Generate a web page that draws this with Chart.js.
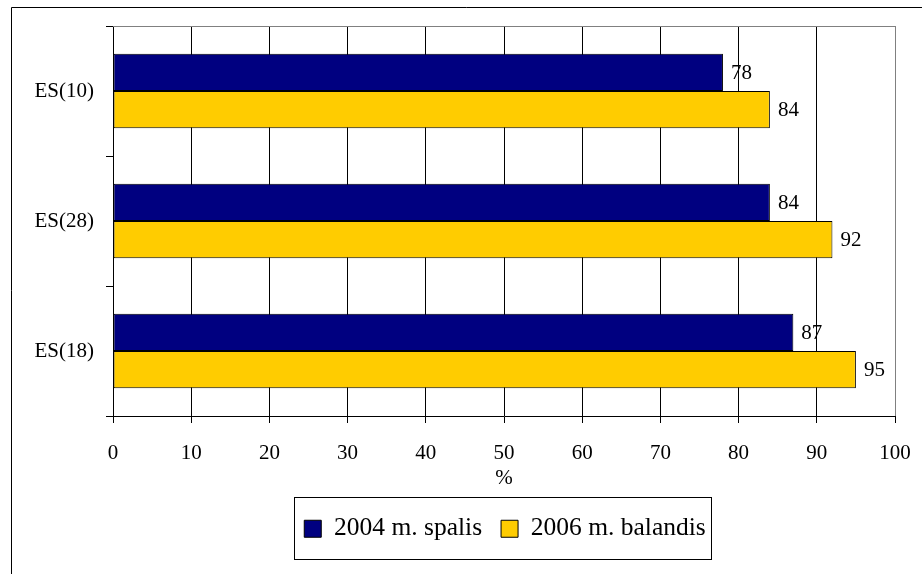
<!DOCTYPE html>
<html>
<head>
<meta charset="utf-8">
<script src="https://cdn.jsdelivr.net/npm/chart.js@4/dist/chart.umd.min.js"></script>
<style>
  html, body { margin: 0; padding: 0; background: #fff; }
  canvas { display: block; }
</style>
</head>
<body>
<canvas id="c" width="922" height="574"></canvas>
<script>
// Survey regions and results (%)
const categories = ['ES(10)', 'ES(28)', 'ES(18)'];
const seriesNames = ['2004 m. spalis', '2006 m. balandis'];
const values2004 = [78, 84, 87];
const values2006 = [84, 92, 95];
const xTicks = [0, 10, 20, 30, 40, 50, 60, 70, 80, 90, 100];
const axisTitle = '%';

const SERIF = '"Liberation Serif", "Times New Roman", serif';
const font = { family: SERIF, size: 21 };
const legendFont = { family: SERIF, size: 25.5 };
const LEGEND_PAD = 19;
const LEGEND_CENTER_X = 505;

// Outer frame, top border of the plot and the boxed legend
const decorations = {
  id: 'decorations',
  beforeDraw(chart) {
    const ctx = chart.ctx;
    ctx.save();
    ctx.fillStyle = '#fff';
    ctx.fillRect(0, 0, chart.width, chart.height);
    ctx.strokeStyle = '#000';
    ctx.lineWidth = 1;
    ctx.beginPath();
    ctx.moveTo(11.5, chart.height);
    ctx.lineTo(11.5, 7.5);
    ctx.lineTo(chart.width, 7.5);
    ctx.stroke();
    ctx.restore();

    // centre the legend row under the plot
    const lg = chart.legend;
    if (lg) {
      const d = LEGEND_CENTER_X - (lg.left + lg.right) / 2;
      lg.left += d;
      lg.right += d;
    }
  },
  afterDraw(chart) {
    const ctx = chart.ctx;
    const a = chart.chartArea;
    ctx.save();
    ctx.strokeStyle = '#808080';
    ctx.lineWidth = 1;
    ctx.beginPath();
    ctx.moveTo(a.left, Math.round(a.top) + 0.5);
    ctx.lineTo(a.right + 0.5, Math.round(a.top) + 0.5);
    ctx.stroke();

    const lg = chart.legend;
    if (lg && lg.lineWidths) {
      const lw = lg.lineWidths[0];
      const start = (lg.left + LEGEND_PAD + lg.right - lw) / 2;
      const end = start + lw - LEGEND_PAD;
      const x0 = Math.round(start - 10) + 0.5;
      const x1 = Math.round(end + 5) + 0.5;
      const y0 = Math.round(lg.top) + 0.5;
      const y1 = y0 + 62;
      ctx.strokeStyle = '#000';
      ctx.strokeRect(x0, y0, x1 - x0, y1 - y0);
    }
    ctx.restore();
  }
};

// Value labels at the end of each bar
const valueLabels = {
  id: 'valueLabels',
  afterDatasetsDraw(chart) {
    const ctx = chart.ctx;
    ctx.save();
    ctx.font = `${font.size}px ${SERIF}`;
    ctx.fillStyle = '#000';
    ctx.textAlign = 'left';
    ctx.textBaseline = 'middle';
    chart.data.datasets.forEach((ds, di) => {
      const meta = chart.getDatasetMeta(di);
      meta.data.forEach((bar, i) => {
        ctx.fillText(String(ds.data[i]), bar.x + 8, bar.y + 1);
      });
    });
    ctx.restore();
  }
};

new Chart(document.getElementById('c'), {
  type: 'bar',
  data: {
    labels: categories,
    datasets: [
      { label: seriesNames[0], data: values2004, backgroundColor: '#000080', borderColor: '#000', borderWidth: 1, borderSkipped: false },
      { label: seriesNames[1], data: values2006, backgroundColor: '#FFCC00', borderColor: '#000', borderWidth: 1, borderSkipped: false }
    ]
  },
  options: {
    indexAxis: 'y',
    responsive: false,
    animation: false,
    devicePixelRatio: 1,
    datasets: { bar: { categoryPercentage: 0.573, barPercentage: 1 } },
    layout: { padding: { top: 26, right: 27, bottom: 22.5, left: 0 } },
    plugins: {
      tooltip: { enabled: false },
      legend: {
        position: 'bottom',
        labels: {
          font: legendFont,
          color: '#000',
          boxWidth: 17,
          boxHeight: 17,
          padding: LEGEND_PAD
        }
      }
    },
    scales: {
      x: {
        min: 0,
        max: 100,
        afterBuildTicks: s => { s.ticks = xTicks.map(v => ({ value: v })); },
        ticks: { color: '#000', font, padding: 18, maxRotation: 0 },
        grid: {
          color: c => (c.tick && c.tick.value === 100 ? '#808080' : '#000'),
          tickColor: '#000',
          tickLength: 7,
          lineWidth: 1
        },
        border: { color: '#000' },
        title: { display: true, text: axisTitle, color: '#000', font, padding: { top: 0, bottom: 6 } },
        afterFit: s => { s.height = 81; s.paddingLeft = 0; s.paddingRight = 0; }
      },
      y: {
        ticks: { color: '#000', font, padding: 12 },
        grid: { drawOnChartArea: false, tickLength: 7, tickColor: '#000' },
        border: { color: '#000' },
        afterFit: s => { s.width = 113; }
      }
    }
  },
  plugins: [decorations, valueLabels]
});
</script>
</body>
</html>
